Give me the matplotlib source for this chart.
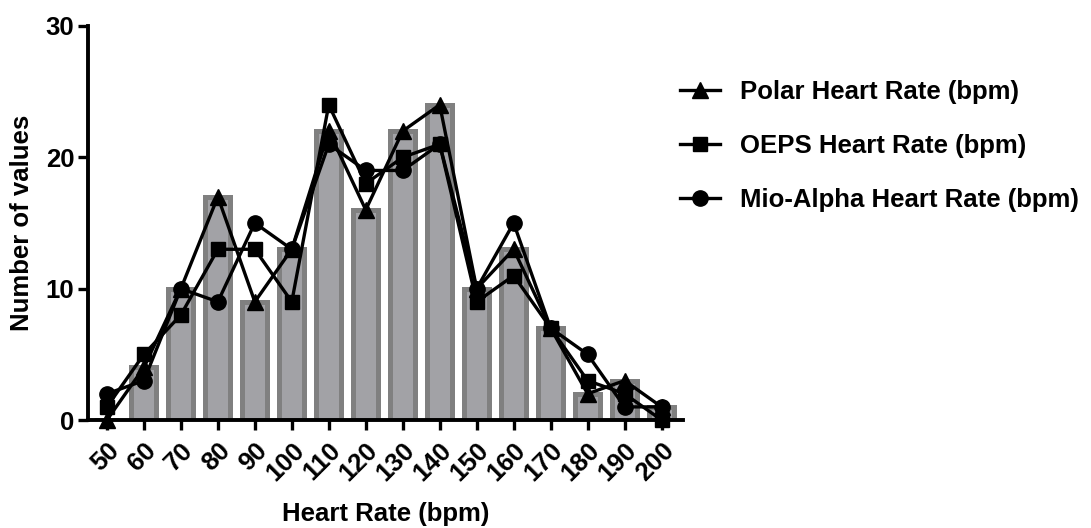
import matplotlib
matplotlib.use("Agg")
import matplotlib.pyplot as plt
import numpy as np

plt.rcParams['font.family'] = ['Liberation Sans', 'DejaVu Sans']
plt.rcParams['font.weight'] = 'bold'

# Heart-rate bins (bpm)
bins = [50, 60, 70, 80, 90, 100, 110, 120, 130, 140, 150, 160, 170, 180, 190, 200]

# Frequency counts per bin for each device
polar = [0, 4, 10, 17, 9, 13, 22, 16, 22, 24, 10, 13, 7, 2, 3, 1]
oeps = [1, 5, 8, 13, 13, 9, 24, 18, 20, 21, 9, 11, 7, 3, 2, 0]
mio_alpha = [2, 3, 10, 9, 15, 13, 21, 19, 19, 21, 10, 15, 7, 5, 1, 1]

series_labels = ["Polar Heart Rate (bpm)", "OEPS Heart Rate (bpm)",
                 "Mio-Alpha Heart Rate (bpm)"]

FS = 18.5

fig = plt.figure(figsize=(10.91, 5.28), dpi=100)
ax = fig.add_axes([0.0807, 0.2045, 0.545, 0.7463])

# Histogram bars (Polar counts)
ax.bar(bins, polar, width=6.8, color='#a2a2a6', edgecolor='#808080',
       linewidth=3.6, zorder=1)

lw = 2.4
ms = 11
l1, = ax.plot(bins, polar, color='black', lw=lw, marker='^', ms=ms + 1,
              zorder=3, clip_on=False)
l2, = ax.plot(bins, oeps, color='black', lw=lw, marker='s', ms=ms - 0.5,
              zorder=3, clip_on=False)
l3, = ax.plot(bins, mio_alpha, color='black', lw=lw, marker='o', ms=ms,
              zorder=3, clip_on=False)

ax.set_xlim(44.9, 205.7)
ax.set_ylim(0, 30)
ax.set_yticks([0, 10, 20, 30])
ax.set_xticks(bins)
ax.set_xticklabels([str(b) for b in bins], rotation=45, ha='right',
                   rotation_mode='anchor', fontsize=FS, fontweight='bold')
for lab in ax.get_yticklabels():
    lab.set_fontsize(FS)
    lab.set_fontweight('bold')

for side in ['top', 'right']:
    ax.spines[side].set_visible(False)
for side in ['left', 'bottom']:
    ax.spines[side].set_linewidth(2.8)
    ax.spines[side].set_zorder(2)
ax.tick_params(axis='both', direction='out', length=7, width=2.4, pad=3)
ax.tick_params(axis='x', pad=6)

ax.set_ylabel("Number of values", fontsize=FS, fontweight='bold', labelpad=8)
ax.set_xlabel("Heart Rate (bpm)", fontsize=FS, fontweight='bold', labelpad=12)

fig.legend([l1, l2, l3], series_labels, loc='upper left',
           bbox_to_anchor=(0.602, 0.893), frameon=False,
           prop={'weight': 'bold', 'size': FS}, handlelength=1.55,
           labelspacing=1.18, handletextpad=0.8)

fig.savefig("out.png", dpi=100)
